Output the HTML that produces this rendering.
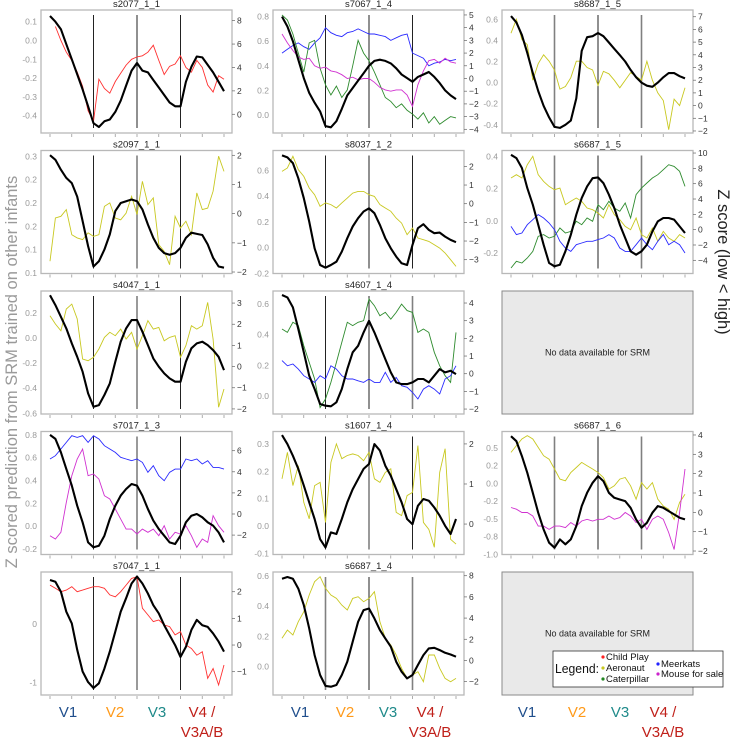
<!DOCTYPE html>
<html><head><meta charset="utf-8">
<style>
html,body{margin:0;padding:0;background:#fff;}
svg{display:block;font-family:"Liberation Sans",sans-serif;}
</style></head>
<body>
<svg id="chart" width="735" height="739" viewBox="0 0 735 739" xmlns="http://www.w3.org/2000/svg">
<text x="0" y="0" transform="translate(17,372) rotate(-90)" text-anchor="middle" font-size="16.5" fill="#9a9a9a">Z scored prediction from SRM trained on other infants</text>
<text x="0" y="0" transform="translate(718,262) rotate(90)" text-anchor="middle" font-size="16.5" fill="#222">Z score (low &lt; high)</text>
<g id="panels"></g>
<g>
<rect x="553" y="651" width="170" height="36" fill="#fff" stroke="#333" stroke-width="0.8"/>
<text x="555" y="673" font-size="13" fill="#111" textLength="44" lengthAdjust="spacingAndGlyphs">Legend:</text>
<circle cx="603" cy="657" r="1.6" fill="#ff2222"/><text x="606" y="660" font-size="9.5" fill="#111">Child Play</text>
<circle cx="603" cy="668" r="1.6" fill="#c8c820"/><text x="606" y="671" font-size="9.5" fill="#111">Aeronaut</text>
<circle cx="603" cy="679" r="1.6" fill="#228822"/><text x="606" y="682" font-size="9.5" fill="#111">Caterpillar</text>
<circle cx="658" cy="664" r="1.6" fill="#2222ff"/><text x="661" y="667" font-size="9.5" fill="#111">Meerkats</text>
<circle cx="658" cy="674" r="1.6" fill="#cc22cc"/><text x="661" y="677" font-size="9.5" fill="#111">Mouse for sale</text>
</g>
</svg>
<script>
const p1Black=[0.13,0.10,0.06,-0.02,-0.10,-0.18,-0.26,-0.35,-0.44,-0.46,-0.43,-0.42,-0.38,-0.32,-0.24,-0.16,-0.12,-0.16,-0.17,-0.21,-0.25,-0.29,-0.33,-0.35,-0.35,-0.22,-0.14,-0.085,-0.09,-0.13,-0.17,-0.22,-0.27];
const p1Red=[null,7.5,6.3,5.3,4.6,3.6,2.4,0.3,-0.6,3.0,2.2,1.8,2.8,3.5,4.2,4.7,4.9,5.0,5.3,5.9,4.6,3.4,4.1,4.3,5.0,4.0,3.6,4.6,4.0,2.5,1.9,3.3,3.0];
const p2Black=[0.8,0.72,0.6,0.45,0.3,0.18,0.1,0.03,-0.09,-0.1,-0.05,0.05,0.16,0.22,0.28,0.34,0.4,0.44,0.45,0.44,0.42,0.38,0.33,0.30,0.27,0.31,0.33,0.35,0.31,0.26,0.2,0.16,0.13];
const p2Blue=[2.0,2.3,2.6,2.8,2.5,2.3,2.8,3.2,4.0,3.6,3.4,3.3,3.6,3.7,3.9,3.7,3.5,3.5,3.4,3.3,3.0,3.2,3.4,3.5,2.0,1.8,1.6,1.0,1.2,1.3,1.5,1.4,1.5];
const p2Green=[5.0,4.6,3.5,2.0,0.5,2.8,3.0,0.8,-0.5,-1.3,-0.6,-1.5,-0.9,1.0,3.0,2.0,1.4,0.5,-0.5,-1.5,-1.8,-2.3,-2.0,-2.5,-2.8,-3.2,-2.7,-3.5,-3.0,-3.6,-3.3,-3.0,-3.1];
const p2Magenta=[3.5,2.8,2.2,1.7,1.5,1.6,1.0,0.8,0.9,0.6,0.5,0.3,0.0,0.1,-0.1,0.0,0.0,-0.3,-0.7,-0.9,-1.0,-0.9,-0.9,-1.3,-2.2,-0.5,0.6,1.4,1.5,1.2,1.6,1.3,1.2];
const p3Black=[0.63,0.57,0.45,0.28,0.09,-0.08,-0.22,-0.33,-0.42,-0.43,-0.40,-0.36,-0.15,0.30,0.43,0.44,0.47,0.44,0.38,0.32,0.26,0.20,0.12,0.05,0.0,-0.03,-0.04,0.0,0.05,0.09,0.09,0.06,0.04];
const p3Yellow=[5.7,6.8,5.2,4.8,2.0,3.3,4.0,3.5,2.8,1.3,1.5,2.2,3.5,3.5,3.0,2.8,1.6,2.7,2.5,2.0,1.4,2.0,2.6,2.3,2.0,3.5,2.0,1.0,0.4,-1.9,0.5,0.0,1.4];
const p4Black=[0.302,0.294,0.277,0.263,0.254,0.231,0.189,0.146,0.111,0.120,0.140,0.166,0.206,0.220,0.223,0.226,0.223,0.209,0.183,0.160,0.143,0.134,0.131,0.134,0.143,0.160,0.169,0.167,0.165,0.149,0.126,0.111,0.109];
const p4Yellow=[-1.63,-0.15,-0.09,0.14,-0.72,-0.83,-0.89,-0.66,-0.78,-0.72,0.25,0.37,-0.15,-0.21,0.02,0.59,-0.03,1.11,0.31,0.54,-1.06,-1.29,-1.75,-0.09,-0.49,-0.26,-0.72,0.71,0.14,0.19,0.77,1.97,1.45];
const p5Black=[0.717,0.701,0.657,0.540,0.384,0.203,-0.005,-0.135,-0.156,-0.135,-0.109,-0.031,0.073,0.164,0.229,0.281,0.306,0.268,0.177,0.073,-0.005,-0.070,-0.122,-0.135,0.021,0.151,0.182,0.138,0.112,0.117,0.086,0.060,0.042];
const p5Yellow=[1.73,1.91,2.54,1.82,1.46,0.84,0.48,-0.14,0.04,-0.05,-0.23,0.04,0.30,0.57,0.66,0.66,0.48,0.39,-0.05,-0.23,-0.41,-0.77,-1.04,-1.66,-1.30,-1.84,-1.93,-2.02,-2.20,-2.38,-2.64,-3.0,-3.36];
const p6Black=[0.410,0.390,0.328,0.203,0.100,-0.024,-0.149,-0.263,-0.283,-0.273,-0.190,-0.087,0.038,0.141,0.214,0.265,0.270,0.234,0.162,0.079,-0.024,-0.107,-0.190,-0.211,-0.190,-0.149,-0.066,-0.004,0.017,0.017,0.007,-0.035,-0.076];
const p6Yellow=[6.74,7.17,6.74,8.48,9.57,7.17,6.30,5.65,5.22,5.43,3.26,3.70,4.13,3.70,2.83,2.61,2.17,1.52,3.26,1.96,1.30,0.43,0.0,1.52,-0.65,-1.09,0.22,-1.52,-0.22,-1.09,-1.52,-0.65,-1.09];
const p6Green=[-5.0,-4.13,-4.35,-3.70,-2.83,-0.87,-0.65,-1.09,-0.87,0.22,-0.43,-0.22,1.09,0.65,1.52,1.09,3.26,2.61,3.70,2.83,2.39,3.48,1.52,4.57,5.43,6.09,6.74,7.17,7.83,8.48,8.26,7.61,5.65];
const p6Blue=[0.43,-0.65,-0.43,0.65,1.30,1.96,1.52,0.87,0.0,-1.52,-2.39,-2.83,-1.96,-1.74,-1.52,-1.52,-1.30,-1.09,-0.65,-1.09,-2.39,-2.83,-2.83,-1.96,-1.09,-1.96,-2.61,-1.52,-0.65,-1.96,-1.52,-1.96,-3.04];
const p7Black=[0.340,0.261,0.168,0.076,-0.044,-0.150,-0.269,-0.441,-0.547,-0.534,-0.454,-0.362,-0.189,-0.030,0.076,0.142,0.142,0.049,-0.057,-0.163,-0.229,-0.282,-0.322,-0.348,-0.348,-0.189,-0.083,-0.044,-0.030,-0.057,-0.097,-0.150,-0.256];
const p7Yellow=[2.40,2.01,1.69,2.72,2.95,2.25,0.36,0.28,0.44,0.83,1.38,1.62,1.46,1.77,1.30,1.62,0.83,1.46,2.17,1.77,1.85,1.22,1.38,1.46,0.44,0.99,1.93,1.77,1.93,3.03,1.30,-1.92,-1.06];
const p8Black=[0.659,0.643,0.578,0.437,0.285,0.133,0.046,-0.052,-0.063,-0.067,-0.041,0.046,0.176,0.285,0.328,0.415,0.491,0.415,0.328,0.241,0.154,0.089,0.078,0.078,0.089,0.111,0.111,0.089,0.133,0.176,0.154,0.165,0.143];
const p8Green=[2.53,2.34,2.91,2.72,1.58,0.64,-0.30,-1.91,-1.43,-0.49,0.64,1.77,2.91,2.72,2.91,3.0,4.23,3.85,3.28,3.47,3.09,3.47,3.94,3.57,3.47,2.34,2.53,2.34,1.21,0.45,-0.11,-0.49,2.34];
const p8Blue=[0.74,0.45,0.55,0.26,-0.11,-0.30,-0.49,-0.11,-0.30,0.45,0.26,-0.11,-0.30,-0.30,-0.40,-0.49,-0.30,-0.49,-0.49,0.08,-0.49,-0.21,-0.68,-0.77,-1.06,-1.43,-0.87,-0.68,-0.87,-1.15,-0.30,-0.11,0.45];
const p10Black=[0.80,0.765,0.648,0.502,0.356,0.180,0.034,-0.142,-0.185,-0.171,-0.083,0.063,0.180,0.268,0.326,0.370,0.356,0.268,0.151,0.049,-0.025,-0.083,-0.142,-0.156,-0.083,0.034,0.092,0.107,0.078,0.034,0.005,-0.054,-0.142];
const p10Blue=[5.21,5.53,6.16,6.79,7.42,7.26,7.42,6.79,7.42,7.11,6.47,6.16,5.84,5.37,5.21,5.05,5.21,4.89,3.95,4.58,3.63,3.16,3.95,4.26,4.26,5.21,5.05,5.21,4.74,5.05,4.42,4.42,4.26];
const p10Magenta=[-2.06,-2.37,-1.74,1.10,3.63,5.21,6.16,3.63,3.79,3.31,1.73,1.42,0.47,-0.48,-1.43,-1.43,-1.90,-1.43,-1.74,-1.43,-2.06,-1.11,-2.37,-1.74,-1.90,-1.11,-2.06,-3.16,-2.37,-2.69,-0.16,-1.11,-1.74];
const p11Black=[0.333,0.30,0.257,0.209,0.148,0.087,0.026,-0.048,-0.078,-0.023,-0.029,0.026,0.087,0.135,0.172,0.209,0.227,0.30,0.276,0.221,0.184,0.135,0.087,0.026,0.007,0.074,0.099,0.093,0.068,0.038,0.001,-0.029,0.026];
const p11Yellow=[1.13,1.79,0.96,1.46,0.54,0.13,0.96,1.04,0.04,1.54,2.0,1.63,1.71,1.75,1.71,1.58,1.79,1.13,1.04,1.29,1.38,0.29,0.21,0.71,0.79,1.96,0.04,-0.13,-0.58,1.29,1.88,-0.38,-0.50];
const p12Black=[0.664,0.594,0.383,0.148,-0.133,-0.414,-0.649,-0.836,-0.906,-0.789,-0.859,-0.789,-0.602,-0.320,-0.133,0.008,0.102,0.031,-0.133,-0.203,-0.227,-0.250,-0.344,-0.508,-0.625,-0.555,-0.414,-0.320,-0.344,-0.391,-0.438,-0.484,-0.508];
const p12Yellow=[3.10,3.45,3.79,3.97,3.79,3.36,2.93,2.75,2.24,1.72,1.63,2.06,2.32,2.58,2.41,2.24,2.06,1.80,1.20,1.37,1.72,1.80,1.37,0.68,1.54,1.20,1.54,0.68,0.33,0.16,-0.36,0.51,0.94];
const p12Magenta=[0.25,0.16,-0.01,-0.01,-0.19,-0.71,-0.71,-0.88,-0.71,-0.71,-0.79,-0.53,-0.71,-0.45,-0.36,-0.45,-0.36,-0.36,-0.19,-0.36,-0.27,-0.01,-0.19,-0.53,-0.36,-0.88,-0.36,-0.19,-0.36,-1.05,-1.92,-0.01,2.24];
const p13Black=[0.75,0.72,0.55,0.21,0.01,-0.44,-0.81,-0.99,-1.09,-1.01,-0.76,-0.47,-0.13,0.21,0.44,0.69,0.81,0.69,0.52,0.32,0.18,-0.02,-0.19,-0.36,-0.56,-0.39,-0.10,0.07,-0.02,-0.05,-0.16,-0.30,-0.47];
const p13Red=[2.25,2.13,2.0,2.06,2.19,2.0,2.06,2.13,2.19,2.19,2.13,1.88,1.81,2.0,2.25,2.5,2.56,1.38,1.13,0.88,0.94,0.75,0.69,0.38,0.5,0.0,-0.13,-0.38,-0.25,-1.25,-0.88,-1.5,-0.75];
const p14Black=[0.582,0.593,0.582,0.516,0.407,0.253,0.077,-0.055,-0.127,-0.132,-0.121,-0.055,0.033,0.165,0.297,0.374,0.385,0.319,0.242,0.187,0.132,0.033,-0.033,-0.077,-0.055,0.011,0.077,0.121,0.125,0.110,0.092,0.081,0.066];
const p14Yellow=[2.09,2.87,2.40,3.66,4.60,6.18,7.43,7.91,6.81,6.18,5.86,5.23,4.76,5.86,6.02,5.55,5.86,6.49,3.66,2.09,1.46,0.52,-0.74,-1.69,-1.37,-1.06,-2.0,0.52,0.52,-0.74,-1.69,-2.0,-1.69];

const p1LeftTicks=[0.1,0,-0.1,-0.2,-0.3,-0.4];
const p1RightTicks=[8,6,4,2,0];
const p2LeftTicks=[0.8,0.6,0.4,0.2,0.0];
const p2RightTicks=[5,4,3,2,1,0,-1,-2,-3,-4];
const p3LeftTicks=[0.6,0.4,0.2,0.0,-0.2,-0.4];
const p3RightTicks=[7,6,5,4,3,2,1,0,-1,-2];
const p4LeftTicks=[0.30,0.26,0.22,0.18,0.14,0.10];
const p4LeftLabels=["0.3","0.2","0.2","0.2","0.1","0.1"];
const p4RightTicks=[2,1,0,-1,-2];
const p5LeftTicks=[0.6,0.4,0.2,0.0,-0.2];
const p5RightTicks=[2,1,0,-1,-2,-3];
const p6LeftTicks=[0.4,0.2,0.0,-0.2];
const p6RightTicks=[10,8,6,4,2,0,-2,-4];
const p7LeftTicks=[0.2,0.0,-0.2,-0.4,-0.6];
const p7RightTicks=[3,2,1,0,-1,-2];
const p8LeftTicks=[0.6,0.4,0.2,0.0];
const p8RightTicks=[4,3,2,1,0,-1,-2];
const p10LeftTicks=[0.8,0.6,0.4,0.2,0.0,-0.2];
const p10RightTicks=[6,4,2,0,-2];
const p11LeftTicks=[0.3,0.2,0.1,0.0,-0.1];
const p11RightTicks=[2,1,0];
const p12LeftTicks=[0.5,0.25,0,-0.25,-0.5,-0.75,-1.0];
const p12LeftLabels=["0.5","0.2","0.0","-0.2","-0.5","-0.8","-1.0"];
const p12RightTicks=[4,3,2,1,0,-1,-2];
const p13LeftTicks=[0,-1];
const p13LeftLabels=["0","-1"];
const p13RightTicks=[2,1,0,-1];
const p14LeftTicks=[0.6,0.4,0.2,0.0];
const p14RightTicks=[8,6,4,2,0,-2];
const boundaryX=[2,4,6];
const regionLabels=["V1","V2","V3","V4 /"];

const RED="#ff3030",YEL="#c8c820",GRN="#2e8b2e",BLU="#2a2aff",MAG="#d030d0",G="#808080",K="#222";
const panels=[
 {t:"s2077_1_1",c:0,r:0,ld:[-0.492,0.162],rd:[-1.6,8.91],lt:p1LeftTicks,rt:p1RightTicks,b:p1Black,s:[[RED,p1Red]],vl:[K,K,K]},
 {t:"s7067_1_4",c:1,r:0,ld:[-0.146,0.854],rd:[-4.29,5.39],lt:p2LeftTicks,rt:p2RightTicks,b:p2Black,s:[[BLU,p2Blue],[GRN,p2Green],[MAG,p2Magenta]],vl:[K,K,K]},
 {t:"s8687_1_5",c:2,r:0,ld:[-0.478,0.688],rd:[-2.16,7.53],lt:p3LeftTicks,rt:p3RightTicks,b:p3Black,s:[[YEL,p3Yellow]],vl:[G,K,G]},
 {t:"s2097_1_1",c:0,r:1,ld:[0.099,0.310],rd:[-2.051,2.165],lt:p4LeftTicks,ll:p4LeftLabels,rt:p4RightTicks,b:p4Black,s:[[YEL,p4Yellow]],vl:[K,G,K]},
 {t:"s8037_1_2",c:1,r:1,ld:[-0.201,0.755],rd:[-3.74,2.85],lt:p5LeftTicks,rt:p5RightTicks,b:p5Black,s:[[YEL,p5Yellow]],vl:[K,K,K]},
 {t:"s6687_1_5",c:2,r:1,ld:[-0.328,0.437],rd:[-5.72,10.33],lt:p6LeftTicks,rt:p6RightTicks,b:p6Black,s:[[YEL,p6Yellow],[GRN,p6Green],[BLU,p6Blue]],vl:[G,K,G]},
 {t:"s4047_1_1",c:0,r:2,ld:[-0.605,0.373],rd:[-2.24,3.57],lt:p7LeftTicks,rt:p7RightTicks,b:p7Black,s:[[YEL,p7Yellow]],vl:[K,G,K]},
 {t:"s4607_1_4",c:1,r:2,ld:[-0.117,0.685],rd:[-2.28,4.68],lt:p8LeftTicks,rt:p8RightTicks,b:p8Black,s:[[GRN,p8Green],[BLU,p8Blue]],vl:[K,K,G]},
 {t:"",c:2,r:2,empty:true},
 {t:"s7017_1_3",c:0,r:3,ld:[-0.248,0.830],rd:[-3.84,7.82],lt:p10LeftTicks,rt:p10RightTicks,b:p10Black,s:[[BLU,p10Blue],[MAG,p10Magenta]],vl:[K,G,K]},
 {t:"s1607_1_4",c:1,r:3,ld:[-0.104,0.346],rd:[-0.76,2.31],lt:p11LeftTicks,rt:p11RightTicks,b:p11Black,s:[[YEL,p11Yellow]],vl:[K,G,K]},
 {t:"s6687_1_6",c:2,r:3,ld:[-1.002,0.730],rd:[-2.18,4.18],lt:p12LeftTicks,ll:p12LeftLabels,rt:p12RightTicks,b:p12Black,s:[[YEL,p12Yellow],[MAG,p12Magenta]],vl:[G,K,G]},
 {t:"s7047_1_1",c:0,r:4,ld:[-1.210,0.886],rd:[-1.875,2.74],lt:p13LeftTicks,ll:p13LeftLabels,rt:p13RightTicks,b:p13Black,s:[[RED,p13Red]],vl:[K,G,K]},
 {t:"s6687_1_4",c:1,r:4,ld:[-0.187,0.626],rd:[-3.26,8.35],lt:p14LeftTicks,rt:p14RightTicks,b:p14Black,s:[[YEL,p14Yellow]],vl:[G,K,G]},
 {t:"",c:2,r:4,empty:true}
];
const colLeft=[41,273,502];
const NS="http://www.w3.org/2000/svg";
const root=document.getElementById('panels');
function mk(tag,attrs,parent){const e=document.createElementNS(NS,tag);for(const k in attrs)e.setAttribute(k,attrs[k]);parent.appendChild(e);return e;}
function fmt(v){if(v===0)return "0.0";return (v<0?"-":"")+Math.abs(v).toFixed(1);}
function ifmt(v){return v<0?"\u2212"+Math.abs(v):String(v);}
const W=191,H=123;
panels.forEach((p,pi)=>{
  const L=colLeft[p.c],T=10+140.5*p.r;
  const g=mk('g',{},root);
  
  
  if(p.empty){
    const r=mk('rect',{x:L,y:T,width:W,height:H,fill:"#e9e9e9",stroke:"#8a8a8a","stroke-width":1},g);
    
    
    const tx=mk('text',{x:L+W/2,y:T+H/2+3,"text-anchor":"middle","font-size":9,fill:"#222"},g);
    tx.textContent="No data available for SRM";
    
    
    return;
  }
  const x0=L+9,x1=L+W-8;
  const sx=x=>x0+(x/8)*(x1-x0);
  const syL=v=>T+H-(v-p.ld[0])/(p.ld[1]-p.ld[0])*H;
  const syR=v=>T+H-(v-p.rd[0])/(p.rd[1]-p.rd[0])*H;
  const bx=mk('rect',{x:L,y:T,width:W,height:H,fill:"#fff",stroke:"#b8b8b8","stroke-width":1.3},g);
  
  
  const tt=mk('text',{x:L+W/2,y:T-3,"text-anchor":"middle","font-size":9.5,fill:"#222"},g);
  tt.textContent=p.t;
  
  
  for(let i=0;i<=8;i++){
    const tk=mk('line',{x1:sx(i),x2:sx(i),y1:T+H+1,y2:T+H+4,stroke:"#999","stroke-width":0.8},g);
    
    
  }
  p.lt.forEach((v,i)=>{
    const t=mk('text',{x:L-4,y:syL(v)+3,"text-anchor":"end","font-size":8.5,fill:"#999"},g);
    t.textContent=p.ll?p.ll[i]:fmt(v);
    
    
  });
  p.rt.forEach(v=>{
    const tk=mk('line',{x1:L+W,x2:L+W+3,y1:syR(v),y2:syR(v),stroke:"#666","stroke-width":0.7},g);
    
    
    const t=mk('text',{x:L+W+5,y:syR(v)+3,"font-size":8.5,fill:"#333"},g);
    t.textContent=ifmt(v);
    
    
  });
  boundaryX.forEach((bxv,i)=>{
    const ln=mk('line',{x1:sx(bxv),x2:sx(bxv),y1:T+5,y2:T+H-5,stroke:p.vl[i],"stroke-width":p.vl[i]===G?1.6:1},g);
    
    
  });
  p.s.forEach(([col,arr])=>{
    let d="";arr.forEach((v,i)=>{if(v===null)return;const x=sx(i*8/(arr.length-1)),y=syR(v);d+=(d?"L":"M")+x.toFixed(1)+","+y.toFixed(1);});
    const pl=mk('path',{d:d,fill:"none",stroke:col,"stroke-width":0.9},g);
    
    
  });
  let d="";p.b.forEach((v,i)=>{const x=sx(i*8/(p.b.length-1)),y=syL(v);d+=(i?"L":"M")+x.toFixed(1)+","+y.toFixed(1);});
  const bl=mk('path',{d:d,fill:"none",stroke:"#000","stroke-width":2.1,"stroke-linejoin":"round"},g);
  
  
});
const rcols=["#1f4e8c","#ff9a1a","#1f8a8a","#c0201a"];
const labelX=[[68,115,157,202],[300,345,388,430],[527,577,620,663]];
colLeft.forEach((L,c)=>{
  regionLabels.forEach((lab,i)=>{
    const t=mk('text',{x:labelX[c][i],y:717,"text-anchor":"middle","font-size":15,fill:rcols[i]},document.getElementById('chart'));
    t.textContent=lab;
    
    
  });
  const t2=mk('text',{x:labelX[c][3],y:737,"text-anchor":"middle","font-size":15,fill:rcols[3]},document.getElementById('chart'));
  t2.textContent="V3A/B";
  
  
});
</script>
</body></html>
